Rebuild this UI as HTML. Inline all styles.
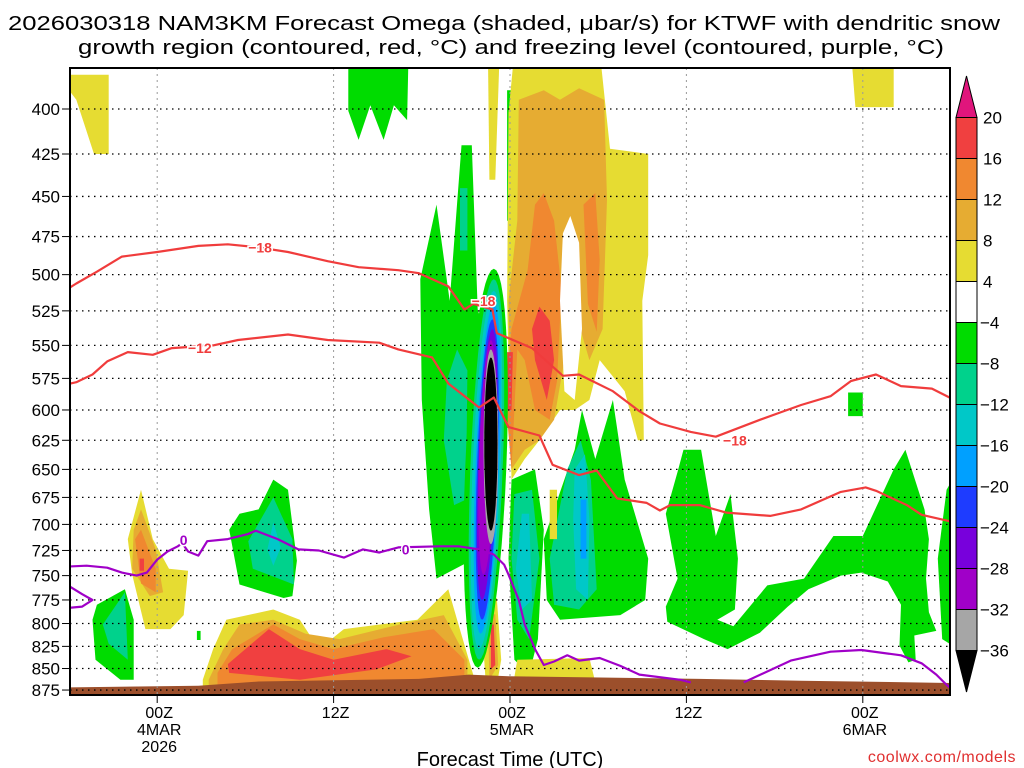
<!DOCTYPE html>
<html><head><meta charset="utf-8"><style>
html,body{margin:0;padding:0;background:#fff;}
svg{display:block;font-family:"Liberation Sans",sans-serif;}
</style></head><body>
<svg id="chart" width="1024" height="768" viewBox="0 0 1024 768" xmlns="http://www.w3.org/2000/svg">
<text x="8" y="30" font-size="20" textLength="992" lengthAdjust="spacingAndGlyphs">2026030318 NAM3KM Forecast Omega (shaded, μbar/s) for KTWF with dendritic snow</text>
<text x="78" y="54" font-size="20" textLength="866" lengthAdjust="spacingAndGlyphs">growth region (contoured, red, °C) and freezing level (contoured, purple, °C)</text>
<defs><clipPath id="plotclip"><rect x="70" y="68" width="880" height="627"/></clipPath></defs>
<g id="shade" clip-path="url(#plotclip)"></g>
<g id="grid"></g>
<g id="lines" clip-path="url(#plotclip)"></g>
<rect x="70" y="68" width="880" height="627" fill="none" stroke="#000" stroke-width="2"/>
<g id="axes"></g>
<g id="cbar"></g>
<text x="510" y="766" font-size="20" text-anchor="middle">Forecast Time (UTC)</text>
<text x="1016" y="762" font-size="16" fill="#e03030" text-anchor="end" letter-spacing="0.5">coolwx.com/models</text>
</svg>
<script>
// ---- data ----
const pressureTicks = [400,425,450,475,500,525,550,575,600,625,650,675,700,725,750,775,800,825,850,875];
const timeTickHours = [6,18,30,42,54];
const timeTickLabels = [["00Z","4MAR","2026"],["12Z"],["00Z","5MAR"],["12Z"],["00Z","6MAR"]];
const levelColors = {"20":"#e0157c","16":"#f04040","12":"#f08830","8":"#e6ac32","4":"#e6dc32","0":"#ffffff","-4":"#00dc00","-8":"#00d28c","-12":"#00c8c8","-16":"#00a0ff","-20":"#1e3cff","-24":"#7800dc","-28":"#a000c8","-32":"#a6a6a6","-36":"#000000"};
const colorbarLabels = [20,16,12,8,4,-4,-8,-12,-16,-20,-24,-28,-32,-36];
const colorbarBoxes = [16,12,8,4,0,-4,-8,-12,-16,-20,-24,-28,-32];

// shaded regions: level and polygon of [forecast hour, hPa]
const regionLevels = [4,4,-4,4,-4, 4,8,12,12,16,16,0, -4,-8,-8, -4,-8,-12, -4,-8,-12,-16, 4, 4, 4,8,16, 4,8,12,16, 4,8,12,16, -4,-8, -4,-8,-12, -4, -4,-4,-4];
const regionShapes = [
 [[0,382],[2.7,382],[2.7,425],[1.7,425],[0.5,395],[0,390]],
 [[53.2,370],[56.1,370],[56.1,399],[53.5,399]],
 [[19,370],[23.1,370],[23,406],[22.1,398],[21.4,417],[20.5,398],[19.7,417],[19,401]],
 [[28.5,370],[29.3,370],[29,440],[28.6,440]],
 [[29.8,390],[30.2,390],[30.1,465],[29.8,465]],
 [[29.9,402],[30.3,370],[36.1,370],[36.8,422],[39.4,425],[39.4,487],[39,518],[39.1,625],[38.7,625],[37.8,585],[36.1,561],[35.4,592],[34.4,600],[33.4,600],[32,625],[31,641],[30.1,659],[29.8,518]],
 [[30.6,395],[32.3,390],[33.4,395],[34.7,389],[36.4,395],[36.6,452],[36.3,538],[35.4,561],[34.4,524],[33.7,561],[33,608],[32,625],[31,633],[30.1,650],[29.9,518],[30.5,465]],
 [[31.7,455],[32.3,448],[33,465],[33.5,510],[33.2,577],[32.7,608],[31.7,600],[31,561],[30.5,553],[30.1,650],[29.7,592],[30.1,538],[31.2,497]],
 [[35,455],[35.8,448],[36.1,490],[35.9,540],[35.3,520]],
 [[32,522],[32.7,532],[33,561],[32.5,592],[31.7,561],[31.5,538]],
 [[29.8,555],[30.2,555],[30.1,600],[29.8,600]],
 [[33.6,473],[34.1,462],[34.7,479],[34.9,538],[34.4,592],[33.7,585],[33.4,518]],
 [[23.9,503],[25,455],[25.9,518],[26.7,420],[27.1,420],[27.4,420],[27.8,524],[28.2,538],[27.6,733],[25,753],[24.5,686],[24,592]],
 [[25.7,577],[26.4,553],[27.1,569],[27,677],[26.2,682],[25.5,625]],
 [[26.6,445],[27.1,445],[27.1,484],[26.6,484]],
 [[30.1,659],[31.7,650],[32.3,705],[31.9,817],[31.3,857],[30.3,840],[29.9,733]],
 [[30.3,672],[31.5,668],[32,733],[31.3,817],[30.5,796],[30.1,733]],
 [[30.8,690],[31.3,690],[31.5,775],[30.8,785],[30.4,743]],
 [[32.3,714],[34.4,633],[34.9,600],[35.8,641],[37,592],[37.8,659],[39.4,733],[39.2,775],[37.5,791],[33.4,796],[32.5,775]],
 [[32.7,733],[33.9,650],[34.8,625],[35.5,659],[35.9,764],[34.7,785],[33,780]],
 [[34.4,650],[35.1,637],[35.4,695],[35.3,775],[34.5,764],[34.3,695]],
 [[34.8,677],[35.2,677],[35.2,733],[34.8,733]],
 [[32.7,668],[33.2,668],[33.2,714],[32.7,714]],
 [[30.5,840],[35.4,838],[36,880],[30.1,880]],
 [[28.4,775],[29.1,773],[29.4,840],[29,880],[28.4,880],[28.2,828]],
 [[28.5,790],[29,790],[29.2,846],[28.6,863]],
 [[28.7,801],[28.9,801],[29,846],[28.7,851]],
 [[9.1,863],[9.8,828],[10.7,796],[13.9,785],[15.7,796],[17,828],[18.7,806],[23.7,796],[25.8,764],[26.4,796],[27.6,863],[27.6,880],[9.1,880]],
 [[9.5,863],[10.5,828],[11.6,801],[13.9,796],[16.1,811],[18.4,817],[22.5,801],[25.5,791],[27.1,840],[27.1,880],[9.5,880]],
 [[10.1,855],[11.1,828],[13.9,801],[15.7,817],[18,828],[21.4,815],[24.8,806],[26.9,840],[26.9,880],[10.1,880]],
 [[10.8,845],[13.6,806],[15.7,828],[18,840],[21.6,828],[23.3,836],[20.9,851],[15.7,863],[10.9,855]],
 [[4.9,668],[5.7,714],[6.8,743],[8.1,745],[7.8,791],[6.9,806],[5.2,806],[4.3,749],[4.0,714]],
 [[4.9,686],[5.9,724],[6.4,767],[5.5,771],[4.3,743],[4.4,705]],
 [[4.9,705],[5.9,743],[5.9,767],[4.9,758],[4.5,714]],
 [[4.8,733],[5.1,733],[5.1,745],[4.8,745]],
 [[1.9,780],[3.8,764],[4.4,796],[4.4,863],[3.5,863],[1.8,840],[1.6,796]],
 [[2.3,801],[3.8,767],[4,840],[2.7,822]],
 [[13.9,659],[14.9,668],[15.5,735],[15.2,771],[14.6,773],[11.6,759],[10.9,705],[11.6,690],[12.9,686]],
 [[13.9,675],[15.2,714],[15.3,759],[12.5,743],[12.2,716]],
 [[13.9,698],[14.4,722],[13.9,740],[13.5,724]],
 [[8.7,808],[8.95,808],[8.95,818],[8.7,818]],
 [[41.8,633],[43,633],[44.0,711],[45,672],[45.5,733],[45.3,785],[44.1,796],[45.2,803],[47.5,760],[50,753],[52,711],[54,711],[56.1,650],[56.9,633],[58.2,686],[58.5,714],[58.3,753],[58.5,788],[59,808],[57.5,813],[57.6,840],[57.1,843],[56.5,824],[56.6,780],[55.7,756],[53.9,747],[52.5,750],[50.3,764],[48.9,782],[47,810],[44.8,828],[43.2,817],[40.7,798],[40.6,782],[41.4,753],[40.6,690],[41.4,652]],
 [[59.7,668],[60.5,650],[60.5,828],[59.4,817],[59.1,733]],
 [[53,586],[54,586],[54,605],[53,605]]
];
// updraft/downdraft column: [topHour, topP, botHour, botP, halfWidthHours]
const columnLevels = [-4,-8,-12,-16,-20,-24,-28,-32,-36];
const columnShapes = [
 [28.9,496,27.8,849,1.4],[28.9,503,27.9,840,1.1],[28.9,511,27.9,828,0.95],[28.9,520,28.0,811,0.8],
 [28.8,531,28.1,796,0.7],[28.8,538,28.1,775,0.6],[28.7,546,28.2,749,0.55],[28.7,553,28.7,719,0.5],[28.7,559,28.7,706,0.45]
];
// contours
const redUpperHours = [-0.3,0.5,1.9,3.6,6,8.8,10.8,12.9,14.9,17.6,19.7,22.4,23.8,25.8,26.9,27.5,28.8,29.1,31.5,33.6,34.7,37,38.8,40.2,42.3,44,47,48.4,49.8,51.8,53.2,54.9,56.6,58.7,59.9,61];
const redUpperP =     [511,506,498,488,485,481,480,482,485,491,495,497,499,508,524,520,524,541,552,573,572,585,601,611,618,622,608,602,596,589,577,572,581,583,590,595];
const redLowerHours = [-0.3,0.5,1.6,2.6,4,5.7,7,9.8,11.5,14.9,17.6,21.1,22.4,24.7,25.8,27.9,28.9,29.9,32,32.9,34.7,35.9,37.3,39.3,40.2,40.9,42.9,44.7,47.7,49.8,52.5,54.2,54.9,57,58,59.9,61];
const redLowerP =     [580,578,572,562,555,557,552,550,546,542,546,548,553,559,579,598,590,614,621,646,655,651,676,680,687,682,682,689,692,686,670,666,669,682,691,697,700];
const purpleHours = [-0.3,1.2,2.6,3.6,4.6,5.3,6,6.7,7.4,7.7,8.1,8.8,9.4,10.8,12.2,12.7,14.2,15.6,17,18.7,20,21.1,22.4,25.2,26.5,27.9,28.9,29.6,29.9,30.6,31,31.7,32.3,33,33.9,34.7,36.1,37.5,38.8,41.6,42.3];
const purpleP =     [741,740,742,747,750,747,734,726,721,718,726,730,716,714,709,706,714,724,725,732,724,727,722,721,721,724,729,739,749,775,801,828,846,842,835,841,838,847,857,863,866];
const purple2Hours = [45.9,49.1,51.8,53.9,56.6,58,59,59.7,60.5];
const purple2P =     [866,841,831,829,835,844,857,869,880];
const purpleLoopHours = [-0.5,0.9,1.6,0.9,-0.5];
const purpleLoopP =     [756,769,775,782,784];
const contourLabels = [["-18",13,482,"#f03c3c"],["-18",28.2,518,"#f03c3c"],["-18",45.3,625,"#f03c3c"],["-12",8.9,552,"#f03c3c"],["0",7.8,715,"#a000c8"],["0",22.9,724,"#a000c8"]];
const terrainHours = [-1,8.8,12.9,23.8,27.2,29.9,42.9,49.8,61];
const terrainP =     [872,870,865,862,857,859,862,864,867];

// ---- scales ----
const X = h => 69 + h*14.7;
const Y = p => 109 + Math.log(p/400)*742.3;
const NS = "http://www.w3.org/2000/svg";
function mk(tag, attrs, parent){ const e=document.createElementNS(NS,tag); for(const k in attrs) e.setAttribute(k,attrs[k]); parent.appendChild(e); return e; }
const shade = document.getElementById('shade');
regionShapes.forEach((pts,i)=>{
  const d = pts.map((q,j)=>(j?'L':'M')+X(q[0]).toFixed(1)+','+Y(q[1]).toFixed(1)).join('')+'Z';
  const el = mk('path',{d:d,fill:levelColors[String(regionLevels[i])]},shade);
  
  
});
columnShapes.forEach((c,i)=>{
  const x0=X(c[0]),y0=Y(c[1]),x1=X(c[2]),y1=Y(c[3]),hw=c[4]*14.7;
  let d='';
  for(let k=0;k<=48;k++){const t=k/48*2*Math.PI; const s=(1-Math.cos(t))/2; const x=x0+(x1-x0)*s+hw*Math.sin(t); const y=y0+(y1-y0)*s; d+=(k?'L':'M')+x.toFixed(1)+','+y.toFixed(1);}
  const el = mk('path',{d:d+'Z',fill:levelColors[String(columnLevels[i])]},shade);
  
  
});
// terrain
{
  let d='M'+X(terrainHours[0])+',700';
  terrainHours.forEach((h,i)=>{ d+='L'+X(h).toFixed(1)+','+Y(terrainP[i]).toFixed(1); });
  d+='L'+X(terrainHours[terrainHours.length-1])+',700Z';
  const el = mk('path',{d:d,fill:'#9c4f2b'},shade);
  
  
}
// grid
const grid = document.getElementById('grid');
pressureTicks.forEach(p=>{
  const el = mk('line',{x1:70,x2:950,y1:Y(p),y2:Y(p),stroke:'#000','stroke-width':1.3,'stroke-dasharray':'1.5 4.5'},grid);
  
  
});
timeTickHours.forEach(h=>{
  const el = mk('line',{x1:X(h),x2:X(h),y1:68,y2:695,stroke:'#999','stroke-width':1,'stroke-dasharray':'2 4'},grid);
  
  
});
// lines
const lines = document.getElementById('lines');
function poly(hs,ps,color,name){
  const d = hs.map((h,i)=>(i?'L':'M')+X(h).toFixed(1)+','+Y(ps[i]).toFixed(1)).join('');
  const el = mk('path',{d:d,fill:'none',stroke:color,'stroke-width':2.2,'stroke-linejoin':'round'},lines);
  
  
}
poly(redUpperHours,redUpperP,'#f03c3c','dgz-minus18-contour');
poly(redLowerHours,redLowerP,'#f03c3c','dgz-minus12-contour');
poly(purpleHours,purpleP,'#a000c8','freezing-level-contour');
poly(purple2Hours,purple2P,'#a000c8','freezing-level-contour-east');
poly(purpleLoopHours,purpleLoopP,'#a000c8','freezing-level-loop');
contourLabels.forEach(l=>{
  const t = mk('text',{x:X(l[1]),y:Y(l[2])+5,'font-size':14,'font-weight':'bold','text-anchor':'middle',fill:l[3],stroke:'#fff','stroke-width':3,'paint-order':'stroke'},lines);
  t.textContent = l[0].replace('-','−');
  
  
});
// axes
const axes = document.getElementById('axes');
pressureTicks.forEach(p=>{
  const t = mk('text',{x:60,y:Y(p)+6,'font-size':17,'text-anchor':'end'},axes);
  t.textContent = p;
  
  
  const tk = mk('line',{x1:62,x2:70,y1:Y(p),y2:Y(p),stroke:'#000','stroke-width':1},axes);
  
  
});
timeTickHours.forEach((h,i)=>{
  const tk = mk('line',{x1:X(h),x2:X(h),y1:695,y2:703,stroke:'#000','stroke-width':1},axes);
  
  
  timeTickLabels[i].forEach((s,j)=>{
    const t = mk('text',{x:X(h)+2,y:718+j*17,'font-size':16,'text-anchor':'middle'},axes);
    t.textContent = s;
    
    
  });
});
// colorbar (evenly spaced boundaries by index)
const cb = document.getElementById('cbar');
const cbY = i => 117.5 + i*41;
const cbL=956, cbR=977;
{
  const tri = mk('path',{d:`M${cbL},${cbY(0)}L${(cbL+cbR)/2},76L${cbR},${cbY(0)}Z`,fill:levelColors["20"],stroke:'#000','stroke-width':1},cb);
  
  
  colorbarBoxes.forEach((v,i)=>{
    const r = mk('rect',{x:cbL,y:cbY(i),width:cbR-cbL,height:41,fill:levelColors[String(v)],stroke:'#000','stroke-width':1},cb);
    
    
  });
  const last = cbY(colorbarLabels.length-1);
  const tri2 = mk('path',{d:`M${cbL},${last}L${(cbL+cbR)/2},692L${cbR},${last}Z`,fill:'#000',stroke:'#000','stroke-width':1},cb);
  
  
  colorbarLabels.forEach((v,i)=>{
    const t = mk('text',{x:v<0?980:983,y:cbY(i)+6,'font-size':17},cb);
    t.textContent = v<0 ? '−'+(-v) : String(v);
    
    
  });
}
</script>
</body></html>
